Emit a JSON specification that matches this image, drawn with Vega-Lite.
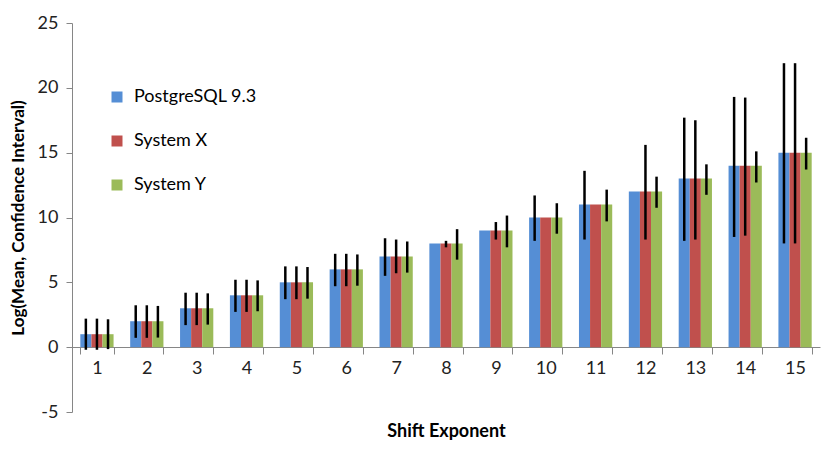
{
  "$schema": "https://vega.github.io/schema/vega-lite/v6.json",
  "width": 748,
  "height": 389,
  "autosize": {"type": "none"},
  "padding": {"left": 72, "top": 23, "right": 10, "bottom": 40},
  "background": "white",
  "config": {
    "view": {"stroke": null},
    "font": "Lato",
    "axis": {"grid": false, "domainColor": "#868686", "tickColor": "#868686", "labelColor": "#222222", "titleColor": "#000000", "labelFont": "Lato", "titleFont": "Lato"}
  },
  "data": {
    "values": [
      {"shift": 1, "series": "PostgreSQL 9.3", "value": 1, "lo": -0.2, "hi": 2.2},
      {"shift": 1, "series": "System X", "value": 1, "lo": -0.2, "hi": 2.2},
      {"shift": 1, "series": "System Y", "value": 1, "lo": -0.15, "hi": 2.15},
      {"shift": 2, "series": "PostgreSQL 9.3", "value": 2, "lo": 0.72, "hi": 3.23},
      {"shift": 2, "series": "System X", "value": 2, "lo": 0.72, "hi": 3.23},
      {"shift": 2, "series": "System Y", "value": 2, "lo": 0.74, "hi": 3.18},
      {"shift": 3, "series": "PostgreSQL 9.3", "value": 3, "lo": 1.7, "hi": 4.2},
      {"shift": 3, "series": "System X", "value": 3, "lo": 1.7, "hi": 4.2},
      {"shift": 3, "series": "System Y", "value": 3, "lo": 1.74, "hi": 4.15},
      {"shift": 4, "series": "PostgreSQL 9.3", "value": 4, "lo": 2.72, "hi": 5.2},
      {"shift": 4, "series": "System X", "value": 4, "lo": 2.72, "hi": 5.2},
      {"shift": 4, "series": "System Y", "value": 4, "lo": 2.77, "hi": 5.15},
      {"shift": 5, "series": "PostgreSQL 9.3", "value": 5, "lo": 3.7, "hi": 6.23},
      {"shift": 5, "series": "System X", "value": 5, "lo": 3.7, "hi": 6.23},
      {"shift": 5, "series": "System Y", "value": 5, "lo": 3.74, "hi": 6.18},
      {"shift": 6, "series": "PostgreSQL 9.3", "value": 6, "lo": 4.7, "hi": 7.2},
      {"shift": 6, "series": "System X", "value": 6, "lo": 4.7, "hi": 7.2},
      {"shift": 6, "series": "System Y", "value": 6, "lo": 4.74, "hi": 7.15},
      {"shift": 7, "series": "PostgreSQL 9.3", "value": 7, "lo": 5.5, "hi": 8.4},
      {"shift": 7, "series": "System X", "value": 7, "lo": 5.7, "hi": 8.3},
      {"shift": 7, "series": "System Y", "value": 7, "lo": 5.75, "hi": 8.15},
      {"shift": 8, "series": "PostgreSQL 9.3", "value": 8, "lo": 8, "hi": 8},
      {"shift": 8, "series": "System X", "value": 8, "lo": 7.7, "hi": 8.2},
      {"shift": 8, "series": "System Y", "value": 8, "lo": 6.75, "hi": 9.1},
      {"shift": 9, "series": "PostgreSQL 9.3", "value": 9, "lo": 9, "hi": 9},
      {"shift": 9, "series": "System X", "value": 9, "lo": 8.3, "hi": 9.65},
      {"shift": 9, "series": "System Y", "value": 9, "lo": 7.7, "hi": 10.15},
      {"shift": 10, "series": "PostgreSQL 9.3", "value": 10, "lo": 8.2, "hi": 11.7},
      {"shift": 10, "series": "System X", "value": 10, "lo": 10, "hi": 10},
      {"shift": 10, "series": "System Y", "value": 10, "lo": 8.75, "hi": 11.1},
      {"shift": 11, "series": "PostgreSQL 9.3", "value": 11, "lo": 8.3, "hi": 13.6},
      {"shift": 11, "series": "System X", "value": 11, "lo": 11, "hi": 11},
      {"shift": 11, "series": "System Y", "value": 11, "lo": 9.7, "hi": 12.15},
      {"shift": 12, "series": "PostgreSQL 9.3", "value": 12, "lo": 12, "hi": 12},
      {"shift": 12, "series": "System X", "value": 12, "lo": 8.3, "hi": 15.6},
      {"shift": 12, "series": "System Y", "value": 12, "lo": 10.75, "hi": 13.15},
      {"shift": 13, "series": "PostgreSQL 9.3", "value": 13, "lo": 8.2, "hi": 17.7},
      {"shift": 13, "series": "System X", "value": 13, "lo": 8.3, "hi": 17.5},
      {"shift": 13, "series": "System Y", "value": 13, "lo": 11.75, "hi": 14.1},
      {"shift": 14, "series": "PostgreSQL 9.3", "value": 14, "lo": 8.5, "hi": 19.3},
      {"shift": 14, "series": "System X", "value": 14, "lo": 8.6, "hi": 19.25},
      {"shift": 14, "series": "System Y", "value": 14, "lo": 12.7, "hi": 15.1},
      {"shift": 15, "series": "PostgreSQL 9.3", "value": 15, "lo": 8.0, "hi": 21.9},
      {"shift": 15, "series": "System X", "value": 15, "lo": 8.0, "hi": 21.9},
      {"shift": 15, "series": "System Y", "value": 15, "lo": 13.7, "hi": 16.15}
    ]
  },
  "encoding": {
    "x": {
      "field": "shift",
      "type": "ordinal",
      "scale": {"paddingInner": 0.333, "paddingOuter": 0.1667},
      "axis": {
        "title": "Shift Exponent",
        "titleFontSize": 18,
        "titleFontWeight": "bold",
        "titleY": 75,
        "labelAngle": 0,
        "labelFontSize": 18,
        "labelPadding": 5,
        "tickBand": "extent",
        "tickSize": 7,
        "offset": -65
      }
    },
    "xOffset": {
      "field": "series",
      "type": "nominal",
      "sort": ["PostgreSQL 9.3", "System X", "System Y"],
      "scale": {"paddingInner": 0, "paddingOuter": 0}
    }
  },
  "layer": [
    {
      "mark": {"type": "bar"},
      "encoding": {
        "y": {
          "field": "value",
          "type": "quantitative",
          "scale": {"domain": [-5, 25], "nice": false},
          "axis": {
            "title": "Log(Mean, Confidence Interval)",
            "titleFontSize": 17,
            "titleFontWeight": "bold",
            "titlePadding": 10,
            "labelFontSize": 18,
            "labelPadding": 8,
            "tickSize": 6,
            "values": [-5, 0, 5, 10, 15, 20, 25],
            "labelExpr": "replace(datum.label, '−', '-')"
          }
        },
        "color": {
          "field": "series",
          "type": "nominal",
          "sort": ["PostgreSQL 9.3", "System X", "System Y"],
          "scale": {"domain": ["PostgreSQL 9.3", "System X", "System Y"], "range": ["#558ED5", "#C0504D", "#9BBB59"]},
          "legend": {
            "title": null,
            "orient": "none",
            "legendX": 36,
            "legendY": 65,
            "symbolType": "square",
            "symbolSize": 121,
            "symbolStrokeWidth": 0,
            "labelFontSize": 18,
            "labelColor": "#000000",
            "labelFont": "Lato",
            "rowPadding": 26,
            "labelOffset": 8
          }
        }
      }
    },
    {
      "mark": {"type": "rule", "color": "black", "strokeWidth": 2.5},
      "encoding": {
        "y": {"field": "lo", "type": "quantitative"},
        "y2": {"field": "hi"}
      }
    }
  ]
}
